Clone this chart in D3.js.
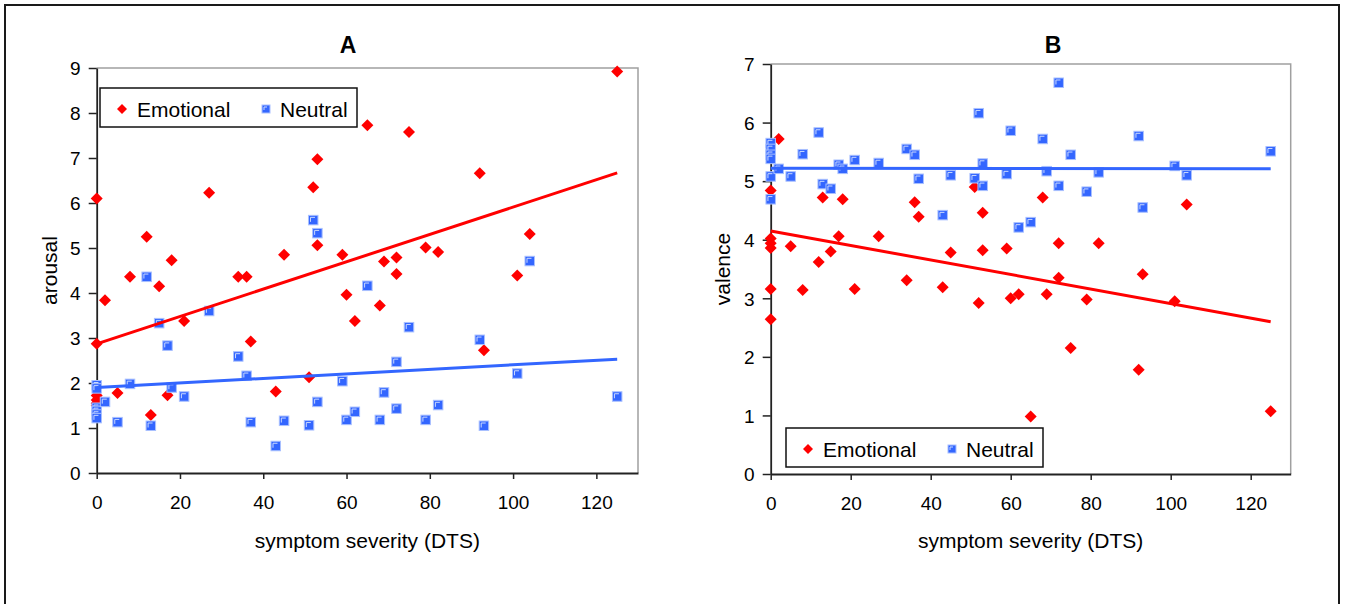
<!DOCTYPE html>
<html>
<head>
<meta charset="utf-8">
<script src="https://cdn.jsdelivr.net/npm/d3@7"></script>
<style>
  html, body { margin: 0; padding: 0; background: #fff; }
  svg { display: block; font-family: "Liberation Sans", Arial, sans-serif; }
</style>
</head>
<body>
<svg id="chart" width="1347" height="604"></svg>
<script>
// ---------------- data ----------------
const severity = [0,0,0,0,0,0,2,5,8,12,13,15,17,18,21,27,34,36,37,43,45,51,52,53,53,59,60,62,65,68,69,72,72,75,79,82,92,93,101,104,125];

const arousalEmotional = [6.1,2.87,1.72,1.62,1.55,1.5,3.84,1.78,4.36,5.25,1.29,4.15,1.73,4.73,3.38,6.23,4.36,4.36,2.92,1.81,4.85,2.13,6.35,6.97,5.06,4.85,3.96,3.38,7.73,3.72,4.7,4.79,4.42,7.58,5.01,4.91,6.66,2.73,4.39,5.31,8.92];
const arousalNeutral   = [1.95,1.88,1.45,1.38,1.3,1.22,1.58,1.13,1.98,4.36,1.05,3.33,2.83,1.9,1.7,3.6,2.59,2.16,1.13,0.6,1.16,1.06,5.62,5.33,1.58,2.04,1.18,1.36,4.16,1.18,1.79,2.47,1.43,3.24,1.18,1.51,2.96,1.05,2.21,4.71,1.7];

const valenceEmotional = [4.84,4.02,3.94,3.86,3.16,2.64,5.72,3.89,3.14,3.62,4.72,3.8,4.06,4.69,3.16,4.06,3.31,4.64,4.39,3.19,3.78,4.9,2.92,4.46,3.82,3.85,3.0,3.07,0.98,4.72,3.07,3.94,3.35,2.15,2.98,3.94,1.78,3.41,2.95,4.6,1.07];
const valenceNeutral   = [5.65,5.55,5.45,5.38,5.08,4.69,5.21,5.08,5.46,5.83,4.95,4.87,5.28,5.21,5.36,5.31,5.55,5.45,5.04,4.42,5.1,5.05,6.16,5.3,4.92,5.12,5.86,4.21,4.3,5.72,5.17,6.68,4.92,5.45,4.82,5.15,5.77,4.55,5.26,5.1,5.51];

// trend lines (start / end of fitted line)
const trendX = [0, 125];
const arousalEmotionalTrend = [2.87, 6.67];
const arousalNeutralTrend   = [1.9, 2.53];
const valenceEmotionalTrend = [4.15, 2.60];
const valenceNeutralTrend   = [5.22, 5.21];

const xTicks = [0,20,40,60,80,100,120];
const arousalTicks = [0,1,2,3,4,5,6,7,8,9];
const valenceTicks = [0,1,2,3,4,5,6,7];
const seriesNames = ["Emotional", "Neutral"];
const xTitle = "symptom severity (DTS)";

// ---------------- drawing ----------------
const svg = d3.select("#chart");
svg.append("rect").attr("width",1347).attr("height",604).attr("fill","#fff");
svg.append("rect").attr("x",5).attr("y",5).attr("width",1334).attr("height",640)
   .attr("fill","none").attr("stroke","#1a1a1a").attr("stroke-width",2);

const RED = "#ff0000", BLUE = "#3366ff";

function diamond(g, cx, cy, r) {
  g.append("path")
   .attr("d", `M${cx},${cy-r}L${cx+r},${cy}L${cx},${cy+r}L${cx-r},${cy}Z`)
   .attr("fill", RED);
}
function square(g, cx, cy, s) {
  const h = s/2;
  g.append("rect").attr("x",cx-h).attr("y",cy-h).attr("width",s).attr("height",s)
   .attr("fill",BLUE).attr("stroke","#a9c0ff").attr("stroke-width",1);
  g.append("path")
   .attr("d",`M${cx-h+2},${cy+h-3}L${cx-h+2},${cy-h+2}L${cx+h-3},${cy-h+2}`)
   .attr("fill","none").attr("stroke","#c9d8ff").attr("stroke-width",1);
}

function panel(opt) {
  const g = svg.append("g");
  const x = d3.scaleLinear().domain([0,130]).range([opt.left, opt.right]);
  const y = d3.scaleLinear().domain([0, opt.ymax]).range([opt.bottom, opt.top]);

  // plot frame (top & right grey)
  g.append("path")
   .attr("d",`M${opt.left},${opt.top}H${opt.right}V${opt.bottom}`)
   .attr("fill","none").attr("stroke","#a0a0a0").attr("stroke-width",1.5);

  // axes
  const ax = g.append("g").attr("transform",`translate(0,${opt.bottom})`)
    .call(d3.axisBottom(x).tickValues(xTicks).tickFormat(d3.format("d"))
      .tickSize(6).tickPadding(17).tickSizeOuter(0));
  const ay = g.append("g").attr("transform",`translate(${opt.left},0)`)
    .call(d3.axisLeft(y).tickValues(opt.yticks).tickFormat(d3.format("d"))
      .tickSize(8).tickPadding(8).tickSizeOuter(0));
  [ax, ay].forEach(a => {
    a.select(".domain").attr("stroke","#222").attr("stroke-width",1.8);
    a.selectAll(".tick line").attr("stroke","#222").attr("stroke-width",1.5);
    a.selectAll(".tick text").attr("fill","#000").style("font-size","19px")
     .style("font-family",'"Liberation Sans", Arial, sans-serif');
  });
  ay.selectAll(".tick text").attr("dy","0.36em");

  // points: emotional first, neutral on top
  const pts = g.append("g");
  severity.forEach((s,i) => diamond(pts, x(s), y(opt.emo[i]), 6));
  severity.forEach((s,i) => square(pts, x(s), y(opt.neu[i]), 9.5));

  // trend lines
  const line = d3.line().x(d => x(d[0])).y(d => y(d[1]));
  g.append("path").datum(trendX.map((v,i)=>[v,opt.emoTrend[i]]))
   .attr("d",line).attr("fill","none").attr("stroke",RED).attr("stroke-width",3);
  g.append("path").datum(trendX.map((v,i)=>[v,opt.neuTrend[i]]))
   .attr("d",line).attr("fill","none").attr("stroke",BLUE).attr("stroke-width",3);

  // titles
  g.append("text").attr("x",opt.titleX).attr("y",53).attr("text-anchor","middle")
   .style("font-size","23px").style("font-weight","bold").text(opt.title);
  g.append("text").attr("x",(opt.left+opt.right)/2).attr("y",548).attr("text-anchor","middle")
   .style("font-size","21px").text(xTitle);
  g.append("text").attr("transform",`translate(${opt.ytitleX},${(opt.top+opt.bottom)/2}) rotate(-90)`)
   .attr("text-anchor","middle").style("font-size","21px").text(opt.ytitle);

  // legend
  const L = opt.legend;
  const lg = g.append("g");
  lg.append("rect").attr("x",L.x).attr("y",L.y).attr("width",257).attr("height",39)
    .attr("fill","#fff").attr("stroke","#111").attr("stroke-width",1.5);
  const cy = L.y + 21;
  diamond(lg, L.x+22, cy, 5);
  lg.append("text").attr("x",L.x+37).attr("y",cy+7.5).style("font-size","21px").text(seriesNames[0]);
  square(lg, L.x+166, cy, 8);
  lg.append("text").attr("x",L.x+180).attr("y",cy+7.5).style("font-size","21px").text(seriesNames[1]);
}

panel({
  left: 96.7, right: 638, top: 68, bottom: 473, ymax: 9, yticks: arousalTicks,
  emo: arousalEmotional, neu: arousalNeutral,
  emoTrend: arousalEmotionalTrend, neuTrend: arousalNeutralTrend,
  title: "A", titleX: 348, ytitle: "arousal", ytitleX: 57,
  legend: {x: 100, y: 88}
});
panel({
  left: 770.7, right: 1290.7, top: 64, bottom: 474, ymax: 7, yticks: valenceTicks,
  emo: valenceEmotional, neu: valenceNeutral,
  emoTrend: valenceEmotionalTrend, neuTrend: valenceNeutralTrend,
  title: "B", titleX: 1053, ytitle: "valence", ytitleX: 730,
  legend: {x: 786, y: 428}
});
</script>
</body>
</html>
